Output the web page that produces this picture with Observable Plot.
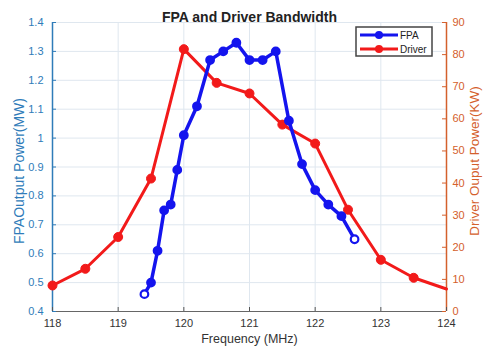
<!DOCTYPE html>
<html>
<head>
<meta charset="utf-8">
<script src="https://cdn.jsdelivr.net/npm/d3@7"></script>
<script src="https://cdn.jsdelivr.net/npm/@observablehq/plot@0.6"></script>
<style>
  html, body { margin: 0; padding: 0; background: #fff; }
  svg { display: block; }
</style>
</head>
<body>
<div id="chart"></div>
<script>
// ---- data ----
const fpaFreq  = [119.4, 119.5, 119.6, 119.7, 119.8, 119.9, 120.0, 120.2, 120.4, 120.6, 120.8, 121.0, 121.2, 121.4, 121.6, 121.8, 122.0, 122.2, 122.4, 122.6];
const fpaPower = [0.46, 0.50, 0.61, 0.75, 0.77, 0.89, 1.01, 1.11, 1.27, 1.30, 1.33, 1.27, 1.27, 1.30, 1.06, 0.91, 0.82, 0.77, 0.73, 0.65];
const driverFreq  = [118, 118.5, 119, 119.5, 120, 120.5, 121, 121.5, 122, 122.5, 123, 123.5, 124];
const driverPower = [8.1, 13.3, 23.2, 41.4, 81.7, 71.2, 67.9, 58.2, 52.3, 31.7, 16.1, 10.5, 7.0];
const xTicks = [118, 119, 120, 121, 122, 123, 124];
const leftTicks = [0.4, 0.5, 0.6, 0.7, 0.8, 0.9, 1.0, 1.1, 1.2, 1.3, 1.4];
const rightTicks = [0, 10, 20, 30, 40, 50, 60, 70, 80, 90];
const seriesNames = ["FPA", "Driver"];

// ---- styling ----
const W = 483, H = 351;
const M = {top: 22, right: 37, bottom: 40, left: 52};
const plotW = W - M.left - M.right, plotH = H - M.top - M.bottom;
const blue = "#1414ee", red = "#f21a1a";
const leftColor = "#2f7cb9", rightColor = "#d4602c";
const gridColor = "#dfe7ef";
const font = "'Liberation Sans', Arial, sans-serif";

const yLo = 0.4, yHi = 1.4, rMax = 90;
const toLeft = v => yLo + v / rMax * (yHi - yLo);
const fromLeft = y => Math.round((y - yLo) / (yHi - yLo) * rMax);

const fpa = fpaFreq.map((f, i) => ({f, p: fpaPower[i], end: i === 0 || i === fpaFreq.length - 1}));
const drv = driverFreq.map((f, i) => ({f, p: toLeft(driverPower[i])}));

const chart = Plot.plot({
  width: W, height: H,
  marginTop: M.top, marginRight: M.right, marginBottom: M.bottom, marginLeft: M.left,
  style: {fontFamily: font, fontSize: "11px", background: "#fff"},
  x: {domain: [118, 124]},
  y: {domain: [yLo, yHi]},
  marks: [
    Plot.gridX(xTicks, {stroke: gridColor, strokeOpacity: 1}),
    Plot.gridY(leftTicks, {stroke: gridColor, strokeOpacity: 1}),
    // axes lines
    Plot.ruleY([yLo], {stroke: "#666", strokeWidth: 1.2}),
    Plot.ruleX([118], {stroke: leftColor, strokeWidth: 1.5}),
    Plot.ruleX([124], {stroke: rightColor, strokeWidth: 1.5}),
    // inward ticks
    Plot.tickX(xTicks, {x: d => d, stroke: "#555", insetTop: plotH - 4}),
    Plot.tickY(leftTicks, {y: d => d, stroke: leftColor, insetRight: plotW - 4}),
    Plot.tickY(rightTicks.map(toLeft), {y: d => d, stroke: rightColor, insetLeft: plotW - 4}),
    // tick labels
    Plot.axisX({ticks: xTicks, tickSize: 0, tickPadding: 8, fill: "#333", label: null, tickFormat: d => String(d)}),
    Plot.axisY({anchor: "left", ticks: leftTicks, tickSize: 0, tickPadding: 9, fill: leftColor, label: null,
      tickFormat: d => (Math.abs(d - 1) < 1e-9 ? "1" : d.toFixed(1))}),
    Plot.axisY({anchor: "right", ticks: rightTicks.map(toLeft), tickSize: 0, tickPadding: 6, fill: rightColor, label: null,
      tickFormat: d => String(fromLeft(d))}),
    // series
    Plot.line(drv, {x: "f", y: "p", stroke: red, strokeWidth: 3}),
    Plot.dot(drv.filter(d => d.f < 124), {x: "f", y: "p", r: 4.5, fill: red, stroke: red, strokeWidth: 1}),
    Plot.line(fpa, {x: "f", y: "p", stroke: blue, strokeWidth: 3.5}),
    Plot.dot(fpa, {x: "f", y: "p", r: 3.8, fill: d => d.end ? "#fff" : blue, stroke: blue, strokeWidth: 2.2}),
    // titles
    Plot.text(["FPA and Driver Bandwidth"], {frameAnchor: "top", dy: -10, fontWeight: "bold", fontSize: 14, fill: "#222"}),
    Plot.text(["Frequency (MHz)"], {frameAnchor: "bottom", dy: 31, fontSize: 12.5, fill: "#333"}),
    Plot.text(["FPAOutput Power(MW)"], {frameAnchor: "left", textAnchor: "middle", dx: -33, dy: 4, rotate: -90, fontSize: 14, fill: leftColor}),
    Plot.text(["Driver Ouput Power(KW)"], {frameAnchor: "right", textAnchor: "middle", dx: 28, dy: -6, rotate: -90, fontSize: 13.5, fill: rightColor})
  ]
});

// legend
const svg = d3.select(chart);
const lg = svg.append("g").attr("transform", "translate(356,27)");
lg.append("rect").attr("width", 76).attr("height", 29).attr("fill", "#fff").attr("stroke", "#444").attr("stroke-width", 1.5);
[[blue, seriesNames[0], 8], [red, seriesNames[1], 22]].forEach(([c, name, y]) => {
  lg.append("line").attr("x1", 4).attr("x2", 42).attr("y1", y).attr("y2", y).attr("stroke", c).attr("stroke-width", 3);
  lg.append("circle").attr("cx", 23).attr("cy", y).attr("r", 4).attr("fill", c);
  lg.append("text").attr("x", 44).attr("y", y).attr("dy", "0.35em").attr("font-size", 10).attr("fill", "#222")
    .attr("text-anchor", "start").attr("font-family", font).text(name);
});

document.getElementById("chart").appendChild(chart);
</script>
</body>
</html>
